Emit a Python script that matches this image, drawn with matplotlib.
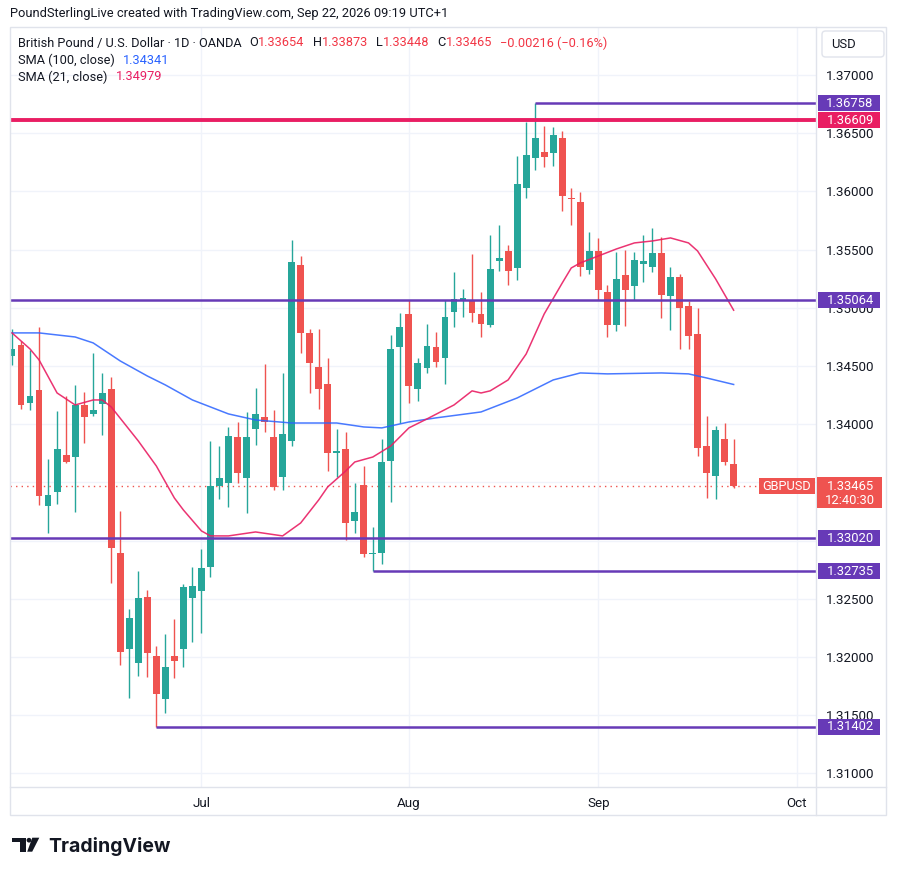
import numpy as np
import pandas as pd
import matplotlib
matplotlib.use("Agg")
import matplotlib.pyplot as plt
from matplotlib.patches import Rectangle, FancyBboxPatch, Polygon, Circle
from matplotlib.lines import Line2D
from matplotlib.transforms import blended_transform_factory

plt.rcParams['font.family'] = ['Roboto', 'DejaVu Sans']

# GBPUSD daily candles, 2 Jun .. 22 Sep 2026
opens = [1.34586, 1.34681, 1.34182, 1.34294, 1.33297, 1.33418, 1.33736, 1.33718, 1.34165, 1.34088,
         1.34174, 1.34303, 1.32894, 1.32069, 1.31949, 1.32516, 1.32009, 1.31639, 1.32009, 1.32069,
         1.32507, 1.32567, 1.32774, 1.33469, 1.33495, 1.33890, 1.33538, 1.33959, 1.34062, 1.33890,
         1.33547, 1.33856, 1.35368, 1.34784, 1.34492, 1.34346, 1.33753, 1.33787, 1.33169, 1.33478,
         1.32885, 1.32894, 1.33684, 1.34663, 1.34947, 1.34303, 1.34483, 1.34663, 1.34569, 1.34964,
         1.35059, 1.35059, 1.34947, 1.34852, 1.35402, 1.35488, 1.35342, 1.36029, 1.36287, 1.36339,
         1.36330, 1.36459, 1.35943, 1.35909, 1.35325, 1.35488, 1.35136, 1.34852, 1.35282, 1.35187,
         1.35376, 1.35351, 1.35471, 1.35101, 1.35265, 1.35016, 1.34775, 1.33813, 1.33555, 1.33873,
         1.33654]
highs = [1.34818, 1.34715, 1.34638, 1.34835, 1.33701, 1.34114, 1.34242, 1.34337, 1.34277, 1.34612,
         1.34440, 1.34406, 1.33254, 1.32413, 1.32739, 1.32576, 1.32095, 1.32198, 1.32327, 1.32627,
         1.32773, 1.32928, 1.33856, 1.33813, 1.33976, 1.34019, 1.34105, 1.34311, 1.34517, 1.34122,
         1.34440, 1.35583, 1.35445, 1.34818, 1.34818, 1.34569, 1.33959, 1.33933, 1.33495, 1.33641,
         1.33117, 1.33873, 1.34766, 1.34955, 1.35067, 1.34569, 1.34861, 1.34792, 1.35067, 1.35308,
         1.35162, 1.35462, 1.35136, 1.35626, 1.35711, 1.35540, 1.36304, 1.36596, 1.36758, 1.36562,
         1.36553, 1.36519, 1.36029, 1.35995, 1.35651, 1.35600, 1.35196, 1.35480, 1.35497, 1.35480,
         1.35626, 1.35686, 1.35608, 1.35351, 1.35290, 1.35059, 1.34998, 1.34071, 1.33985, 1.34010,
         1.33873]
lows = [1.34509, 1.34131, 1.34122, 1.33306, 1.33065, 1.33315, 1.33670, 1.33246, 1.33839, 1.34071,
        1.33907, 1.32636, 1.31932, 1.31648, 1.31837, 1.31828, 1.31402, 1.31519, 1.31820, 1.31914,
        1.32129, 1.32206, 1.32687, 1.33358, 1.33289, 1.33495, 1.33237, 1.33821, 1.33933, 1.33435,
        1.33435, 1.33813, 1.34612, 1.34268, 1.34131, 1.33598, 1.33547, 1.33005, 1.33065, 1.32859,
        1.32735, 1.32799, 1.33332, 1.34010, 1.34182, 1.34199, 1.34440, 1.34492, 1.34346, 1.34835,
        1.34921, 1.34878, 1.34749, 1.34835, 1.35316, 1.35196, 1.35239, 1.35943, 1.36184, 1.36210,
        1.36218, 1.35832, 1.35711, 1.35273, 1.35290, 1.35067, 1.34749, 1.34801, 1.34844, 1.35067,
        1.35222, 1.35308, 1.34912, 1.34809, 1.34646, 1.34646, 1.33727, 1.33366, 1.33358, 1.33650,
        1.33448]
closes = [1.34646, 1.34165, 1.34242, 1.33383, 1.33392, 1.33787, 1.33675, 1.34165, 1.34062, 1.34122,
          1.34268, 1.32937, 1.32043, 1.32335, 1.32507, 1.32035, 1.31682, 1.31914, 1.31966, 1.32602,
          1.32610, 1.32765, 1.33469, 1.33538, 1.33899, 1.33581, 1.33890, 1.34088, 1.34019, 1.33461,
          1.33916, 1.35394, 1.34784, 1.34526, 1.34303, 1.33753, 1.33770, 1.33151, 1.33246, 1.32885,
          1.32894, 1.33675, 1.34646, 1.34835, 1.34328, 1.34526, 1.34672, 1.34535, 1.34921, 1.35076,
          1.35084, 1.34955, 1.34861, 1.35333, 1.35428, 1.35316, 1.36064, 1.36313, 1.36459, 1.36296,
          1.36485, 1.35961, 1.35935, 1.35351, 1.35488, 1.35153, 1.34852, 1.35248, 1.35153, 1.35411,
          1.35402, 1.35471, 1.35110, 1.35265, 1.34998, 1.34758, 1.33796, 1.33581, 1.33950, 1.33675,
          1.33465]

# moving averages (bar index, value)
sma100_idx = [0, 3, 7, 9, 12, 15, 17, 20, 22, 24, 27, 31, 36, 39, 41, 44, 47, 52, 56, 60, 63, 66, 72, 75, 77, 80]
sma100_val = [1.34784, 1.34784, 1.34749, 1.34698, 1.34543, 1.34414, 1.34337, 1.34208, 1.34148, 1.34088,
              1.34036, 1.34010, 1.34010, 1.33976, 1.33968, 1.34019, 1.34054, 1.34105, 1.34225, 1.34380,
              1.34440, 1.34432, 1.34440, 1.34432, 1.34397, 1.34341]
sma21_idx = [0, 2, 3, 5, 7, 9, 10, 11, 14, 16, 18, 19, 21, 22, 24, 27, 30, 32, 34, 35, 37, 38, 40, 42,
             44, 46, 49, 51, 52, 53, 55, 57, 59, 61, 62, 63, 65, 67, 69, 71, 73, 75, 76, 78, 80]
sma21_val = [1.34784, 1.34646, 1.34552, 1.34268, 1.34165, 1.34208, 1.34208, 1.34148, 1.33856, 1.33641,
             1.33366, 1.33263, 1.33083, 1.33040, 1.33040, 1.33074, 1.33040, 1.33151, 1.33349, 1.33461,
             1.33598, 1.33675, 1.33718, 1.33813, 1.33968, 1.34045, 1.34165, 1.34286, 1.34268, 1.34286,
             1.34380, 1.34603, 1.34947, 1.35213, 1.35342, 1.35385, 1.35445, 1.35505, 1.35557, 1.35574,
             1.35600, 1.35557, 1.35488, 1.35248, 1.34979]

# drawn levels: (price, start bar or None for full width, colour, width)
levels = [(1.36758, 58, '#673ab7', 1.8),
          (1.36609, None, '#e91e63', 2.8),
          (1.35064, None, '#673ab7', 1.8),
          (1.33020, None, '#673ab7', 1.8),
          (1.32735, 40, '#673ab7', 1.8),
          (1.31402, 16, '#673ab7', 1.8)]
last_price = 1.33465

price_ticks = np.arange(1.31, 1.37001, 0.005)
hidden_ticks = [1.330, 1.335]          # fully covered by the level tags
days = pd.bdate_range('2026-06-02', '2026-10-02')
month_names = ['Jul', 'Aug', 'Sep', 'Oct']

UP, DOWN = '#26a69a', '#ef5350'
DARK = '#131722'
GRID = '#f0f3fa'
BORDER = '#e0e3eb'
FS = 9.2

W, H = 899, 876
fig = plt.figure(figsize=(W / 100, H / 100), dpi=100)


def fx(px):
    return px / W


def fy(py):
    return 1 - py / H


ylim = (1.30883, 1.37412)
ax = fig.add_axes([fx(10), fy(787), (816 - 10) / W, (787 - 27) / H])
ax.set_ylim(*ylim)
ax.set_xlim(-0.22, 89.13)
for s in ax.spines.values():
    s.set_visible(False)

month_pos = [np.where(days.month == m)[0][0] for m in (7, 8, 9, 10)]
ax.set_xticks(month_pos)
ax.set_xticklabels(month_names)
ax.set_yticks(price_ticks)
ax.set_yticklabels(['' if any(abs(p - h) < 1e-6 for h in hidden_ticks) else '%.5f' % p
                    for p in price_ticks])
ax.yaxis.tick_right()
ax.tick_params(axis='y', length=0, pad=7.5, labelsize=9.6, labelcolor=DARK)
ax.tick_params(axis='x', length=0, pad=7, labelsize=9.6, labelcolor=DARK)
ax.grid(True, color=GRID, lw=1, zorder=0)
ax.set_axisbelow(True)

# candles
x = np.arange(len(opens))
o = np.array(opens)
c = np.array(closes)
cols = [UP if cc >= oo else DOWN for oo, cc in zip(o, c)]
ax.vlines(x, lows, highs, colors=cols, lw=1, zorder=3)
body_lo = np.minimum(o, c)
body_h = np.maximum(np.abs(c - o), 0.00006)
ax.bar(x, body_h, bottom=body_lo, width=0.76, color=cols, zorder=4, linewidth=0)

ax.plot(sma100_idx, sma100_val, color='#2962ff', lw=1.1, zorder=5, alpha=0.85)
ax.plot(sma21_idx, sma21_val, color='#e91e63', lw=1.1, zorder=5, alpha=0.9)

xmax = ax.get_xlim()[1]
for price, start, col, lw in levels:
    if start is None:
        ax.axhline(price, color=col, lw=lw, zorder=6)
    else:
        ax.hlines(price, start, xmax, color=col, lw=lw, zorder=6)

ax.axhline(last_price, color=DOWN, lw=1, ls=(0, (1, 3)), zorder=2)

# GBPUSD tag at the right end of the price line
ppx = (ylim[1] - ylim[0]) / 760.0
bt = blended_transform_factory(ax.transAxes, ax.transData)
ax.add_patch(Rectangle(((759 - 10) / 806, last_price - 8 * ppx), 56 / 806, 16 * ppx,
                       transform=bt, fc=DOWN, ec='none', zorder=8, clip_on=False))
ax.text((787 - 10) / 806, last_price, 'GBPUSD', transform=bt, ha='center', va='center',
        color='white', fontsize=FS, zorder=9)

# price scale tags
pax = fig.add_axes([fx(816), fy(787), 70 / W, (787 - 27) / H])
pax.set_ylim(*ylim)
pax.set_xlim(0, 70)
pax.axis('off')
pax.set_zorder(5)
for price, start, col, lw in sorted(levels, key=lambda t: -t[0]):
    pax.add_patch(Rectangle((1.5, price - 8 * ppx), 62.5, 16 * ppx, fc=col, ec='none'))
    pax.text(34, price, '%.5f' % price, ha='center', va='center', color='white', fontsize=9.4)
pax.add_patch(Rectangle((1, last_price - 22 * ppx), 65, 31 * ppx, fc=DOWN, ec='none'))
pax.text(34, last_price, '%.5f' % last_price, ha='center', va='center', color='white', fontsize=9.4)
pax.text(34, last_price - 14 * ppx, '12:40:30', ha='center', va='center', color='white', fontsize=9.4)

# frame
fig.add_artist(Rectangle((fx(10), fy(815)), 876 / W, 788 / H, transform=fig.transFigure,
                         fill=False, ec=BORDER, lw=1))
fig.add_artist(Line2D([fx(10), fx(886)], [fy(787), fy(787)], color=BORDER, lw=1))
fig.add_artist(Line2D([fx(816), fx(816)], [fy(27), fy(815)], color=BORDER, lw=1))

# currency button
fig.add_artist(FancyBboxPatch((fx(822), fy(57)), 62 / W, 26 / H, boxstyle='round,pad=0,rounding_size=0.004',
                              transform=fig.transFigure, fc='white', ec=BORDER, lw=1, zorder=6))
fig.text(fx(831), fy(44), 'USD', ha='left', va='center', fontsize=9.4, color=DARK, zorder=7)

# header texts
fig.text(fx(10), fy(13), 'PoundSterlingLive created with TradingView.com, Sep 22, 2026 09:19 UTC+1',
         ha='left', va='center', fontsize=9.3, color=DARK)

renderer = fig.canvas.get_renderer()


def text_run(x0, y0, parts):
    xp = x0
    for part in parts:
        if isinstance(part, (int, float)):
            xp += part
            continue
        s, col = part
        t = fig.text(fx(xp), fy(y0), s, ha='left', va='center', fontsize=FS, color=col, zorder=8)
        xp += t.get_window_extent(renderer).width


RED_TXT = '#f23645'
text_run(18, 43, [('British Pound / U.S. Dollar · 1D · OANDA', DARK), 8,
                  ('O', DARK), ('1.33654', RED_TXT), 8,
                  ('H', DARK), ('1.33873', RED_TXT), 8,
                  ('L', DARK), ('1.33448', RED_TXT), 8,
                  ('C', DARK), ('1.33465', RED_TXT), 8,
                  ('\u22120.00216 (\u22120.16%)', RED_TXT)])
text_run(18, 60, [('SMA (100, close)', DARK), 8, ('1.34341', '#2962ff')])
text_run(18, 77, [('SMA (21, close)', DARK), 8, ('1.34979', '#e91e63')])

# TradingView logo
logo = [Polygon([(fx(12.3), fy(837.7)), (fx(25.7), fy(837.7)), (fx(25.7), fy(851.7)), (fx(20), fy(851.7)),
                 (fx(20), fy(842.3)), (fx(12.3), fy(842.3))], closed=True, transform=fig.transFigure,
                fc=DARK, ec='none'),
        Polygon([(fx(32.3), fy(837.7)), (fx(39.3), fy(837.7)), (fx(32.2), fy(851.7)), (fx(27.2), fy(851.7))],
                closed=True, transform=fig.transFigure, fc=DARK, ec='none')]
for p in logo:
    fig.add_artist(p)
fig.add_artist(Circle((fx(29.0), fy(840.2)), 2.4 / W, transform=fig.transFigure, fc=DARK, ec='none'))
fig.text(fx(48), fy(846), 'TradingView', ha='left', va='center', fontsize=14, fontweight='bold',
         color=DARK, family=['Inter', 'DejaVu Sans'])

fig.savefig('out.png', dpi=100, facecolor='white')
